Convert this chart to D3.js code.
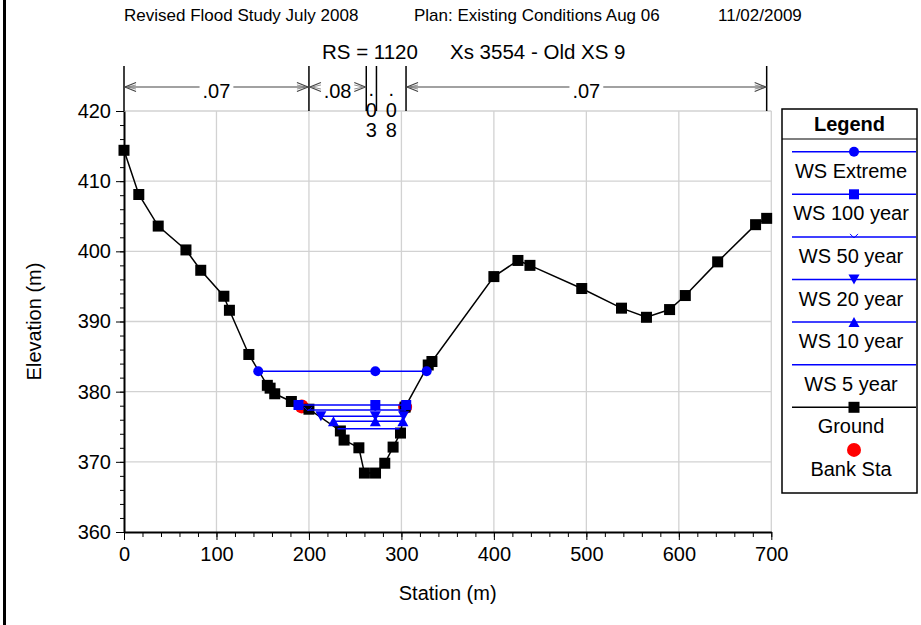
<!DOCTYPE html>
<html>
<head>
<meta charset="utf-8">
<style>
  body { margin: 0; background: #fff; }
  svg { font-family: Arial, "Liberation Sans", sans-serif; }
  .grid line { stroke: #d2d2d2; stroke-width: 1.3; }
  .axis path, .axis line { stroke: #000; }
  .axis text { font-size: 20px; fill: #000; }
</style>
</head>
<body>
<script src="https://cdn.jsdelivr.net/npm/d3@7"></script>
<script>
// ground profile
var stations   = [0, 16, 37, 67, 83, 108, 114, 135, 155, 158, 163, 181, 200, 234, 238, 254, 260, 272, 282, 291, 299, 304, 329, 333, 400, 426, 439, 495, 538, 565, 590, 607, 642, 683, 695];
var elevations = [414.4, 408.1, 403.6, 400.2, 397.3, 393.6, 391.6, 385.3, 380.9, 380.5, 379.7, 378.6, 377.5, 374.4, 373.1, 372.0, 368.4, 368.4, 369.8, 372.1, 374.1, 377.8, 383.8, 384.3, 396.4, 398.7, 398.0, 394.7, 391.9, 390.6, 391.7, 393.7, 398.5, 403.8, 404.7];

// water surfaces
var wsNames   = ["WS Extreme", "WS 100 year", "WS 50 year", "WS 20 year", "WS 10 year", "WS 5 year"];
var wsElev    = [382.9, 378.1, 377.4, 376.5, 375.8, 374.7];
var wsLeft    = [145.2, 188.7, 199.0, 212.9, 226.5, 230.9];
var wsMid     = [271.8, 271.8, 271.8, 271.8, 271.8, 271.8];
var wsRight   = [327.3, 305.2, 304.1, 302.3, 301.6, 298.0];
var wsMarkers = ["circle", "square", "chevron", "down", "up", "none"];

// bank stations
var bankSta  = [192.2, 304];
var bankElev = [377.9, 377.8];

// manning n values
var nBreaks = [0, 200, 262, 273, 305, 695];
var nValues = [".07", ".08", ".03", ".08", ".07"];

var xTicks = d3.range(0, 701, 100);
var yTicks = d3.range(360, 421, 10);

var W = 921, H = 625;
var blue = "#0000ff";

var svg = d3.select("body").append("svg")
    .attr("width", W)
    .attr("height", H);

var x = d3.scaleLinear().domain([0, 700]).range([124, 771.3]);
var y = d3.scaleLinear().domain([360, 420]).range([532, 111]);

// left border of the page
svg.append("line")
    .attr("x1", 4.5).attr("x2", 4.5).attr("y1", 0).attr("y2", H)
    .attr("stroke", "#000").attr("stroke-width", 3);

// titles
svg.append("text").attr("x", 124).attr("y", 21).style("font-size", "17px")
    .text("Revised Flood Study July 2008");
svg.append("text").attr("x", 414).attr("y", 21).style("font-size", "17px")
    .text("Plan: Existing Conditions Aug 06");
svg.append("text").attr("x", 718).attr("y", 21).style("font-size", "17px")
    .text("11/02/2009");
svg.append("text").attr("x", 322).attr("y", 59).style("font-size", "20.5px")
    .text("RS = 1120");
svg.append("text").attr("x", 450).attr("y", 59).style("font-size", "20.5px")
    .text("Xs 3554 - Old XS 9");

// grid
svg.append("g").attr("class", "grid")
  .selectAll("line.v").data(xTicks.slice(1)).enter().append("line")
    .attr("x1", function(d) { return x(d); }).attr("x2", function(d) { return x(d); })
    .attr("y1", y(360)).attr("y2", y(420));
svg.append("g").attr("class", "grid")
  .selectAll("line.h").data(yTicks.slice(1)).enter().append("line")
    .attr("x1", x(0)).attr("x2", x(700))
    .attr("y1", function(d) { return y(d); }).attr("y2", function(d) { return y(d); });

// axes
svg.append("g").attr("class", "axis")
    .attr("transform", "translate(0," + y(360) + ")")
    .call(d3.axisBottom(x).tickValues(d3.range(0, 701, 20)).tickSize(5).tickFormat(""))
    .call(function(g) { g.select(".domain").remove(); });
svg.append("g").attr("class", "axis")
    .attr("transform", "translate(0," + y(360) + ")")
    .call(d3.axisBottom(x).tickValues(xTicks).tickSize(8).tickPadding(7).tickSizeOuter(0))
    .call(function(g) { g.select(".domain").attr("stroke-width", 2); });

svg.append("g").attr("class", "axis")
    .attr("transform", "translate(" + x(0) + ",0)")
    .call(d3.axisLeft(y).tickValues(d3.range(360, 421, 2)).tickSize(4).tickFormat(""))
    .call(function(g) { g.select(".domain").remove(); });
svg.append("g").attr("class", "axis")
    .attr("transform", "translate(" + x(0) + ",0)")
    .call(d3.axisLeft(y).tickValues(yTicks).tickSize(8).tickPadding(5).tickSizeOuter(0))
    .call(function(g) { g.select(".domain").attr("stroke-width", 2); });

svg.append("text")
    .attr("transform", "translate(41," + (y(390)) + ") rotate(-90)")
    .attr("text-anchor", "middle").style("font-size", "20px")
    .text("Elevation (m)");
svg.append("text")
    .attr("x", (x(0) + x(700)) / 2).attr("y", 600)
    .attr("text-anchor", "middle").style("font-size", "20px")
    .text("Station (m)");

// n value annotation
var nTop = 66, nArrowY = 87;
var ann = svg.append("g").attr("stroke", "#000");
nBreaks.forEach(function(b) {
  ann.append("line")
      .attr("x1", x(b)).attr("x2", x(b)).attr("y1", nTop).attr("y2", y(420))
      .attr("stroke-width", 1.5);
});

function arrowHead(px, dir) {
  // dir = 1 points left (tip at px), -1 points right
  var a = 11 * dir;
  ann.append("path")
      .attr("d", "M" + (px + a) + "," + (nArrowY - 4.5) + "L" + px + "," + nArrowY + "L" + (px + a) + "," + (nArrowY + 4.5))
      .attr("fill", "none").attr("stroke", "#444").attr("stroke-width", 1.2);
  ann.append("path")
      .attr("d", "M" + (px + a) + "," + (nArrowY - 2) + "L" + (px + 2 * dir) + "," + nArrowY + "L" + (px + a) + "," + (nArrowY + 2))
      .attr("fill", "none").attr("stroke", "#777").attr("stroke-width", 0.8);
}

nValues.forEach(function(v, i) {
  var x0 = x(nBreaks[i]), x1 = x(nBreaks[i + 1]), cx = (x0 + x1) / 2;
  if (x1 - x0 > 30) {
    var t = svg.append("text").attr("x", cx).attr("y", nArrowY + 11)
        .attr("text-anchor", "middle").style("font-size", "20px").text(v);
    var tw = t.node().getComputedTextLength();
    var l = cx - tw / 2 - 3, r = cx + tw / 2 + 3;
    if (l - x0 > 14) {
      ann.append("line").attr("x1", x0 + 1).attr("x2", l).attr("y1", nArrowY).attr("y2", nArrowY)
          .attr("stroke", "#444").attr("stroke-width", 1.2);
      ann.append("line").attr("x1", r).attr("x2", x1 - 1).attr("y1", nArrowY).attr("y2", nArrowY)
          .attr("stroke", "#444").attr("stroke-width", 1.2);
    }
    arrowHead(x0 + 1, 1);
    arrowHead(x1 - 1, -1);
  } else {
    v.split("").forEach(function(c, k) {
      svg.append("text").attr("x", cx).attr("y", 96 + k * 20.5)
          .attr("text-anchor", "middle").style("font-size", "20px").text(c);
    });
  }
});

// markers
function drawMarker(g, type, px, py, color) {
  if (type === "circle") {
    g.append("circle").attr("cx", px).attr("cy", py).attr("r", 5).attr("fill", color);
  } else if (type === "square") {
    g.append("rect").attr("x", px - 5).attr("y", py - 5).attr("width", 10).attr("height", 10).attr("fill", color);
  } else if (type === "down") {
    g.append("path").attr("d", "M" + (px - 5.5) + "," + (py - 5) + "L" + (px + 5.5) + "," + (py - 5) + "L" + px + "," + (py + 5) + "Z").attr("fill", color);
  } else if (type === "up") {
    g.append("path").attr("d", "M" + (px - 5.5) + "," + (py + 5) + "L" + (px + 5.5) + "," + (py + 5) + "L" + px + "," + (py - 5) + "Z").attr("fill", color);
  } else if (type === "chevron") {
    g.append("path").attr("d", "M" + (px - 4) + "," + (py - 3) + "L" + px + "," + (py + 1) + "L" + (px + 4) + "," + (py - 3))
        .attr("fill", "none").attr("stroke", color).attr("stroke-width", 1);
  } else if (type === "gsquare") {
    g.append("rect").attr("x", px - 5.5).attr("y", py - 5.5).attr("width", 11).attr("height", 11).attr("fill", color);
  } else if (type === "bank") {
    g.append("circle").attr("cx", px).attr("cy", py).attr("r", 7).attr("fill", color);
  }
}

var plot = svg.append("g");

// bank stations (under the rest)
bankSta.forEach(function(s, i) {
  drawMarker(plot, "bank", x(s), y(bankElev[i]), "#ff0000");
});

// ground
var ground = stations.map(function(s, i) { return [s, elevations[i]]; });
var line = d3.line().x(function(d) { return x(d[0]); }).y(function(d) { return y(d[1]); });
plot.append("path").datum(ground).attr("d", line)
    .attr("fill", "none").attr("stroke", "#000").attr("stroke-width", 1.5);
ground.forEach(function(d) { drawMarker(plot, "gsquare", x(d[0]), y(d[1]), "#000"); });

// water surfaces
wsNames.forEach(function(n, i) {
  var pts = [[wsLeft[i], wsElev[i]], [wsMid[i], wsElev[i]], [wsRight[i], wsElev[i]]];
  plot.append("path").datum(pts).attr("d", line)
      .attr("fill", "none").attr("stroke", blue).attr("stroke-width", 1.5);
  pts.forEach(function(p) { drawMarker(plot, wsMarkers[i], x(p[0]), y(p[1]), blue); });
});

// legend
var lg = svg.append("g");
var lx0 = 782, lx1 = 917, ly0 = 109, ly1 = 493;
lg.append("rect").attr("x", lx0).attr("y", ly0).attr("width", lx1 - lx0).attr("height", ly1 - ly0)
    .attr("fill", "#fff").attr("stroke", "#000").attr("stroke-width", 1.5);
lg.append("line").attr("x1", lx0).attr("x2", lx1).attr("y1", 139).attr("y2", 139)
    .attr("stroke", "#000").attr("stroke-width", 1.2);
lg.append("text").attr("x", (lx0 + lx1) / 2).attr("y", 131).attr("text-anchor", "middle")
    .style("font-size", "20px").style("font-weight", "bold").text("Legend");

var legNames = wsNames.concat(["Ground", "Bank Sta"]);
var legMarkers = wsMarkers.concat(["gsquare", "bank"]);
var legColors = [blue, blue, blue, blue, blue, blue, "#000", "#ff0000"];
var lmx = 854;
legNames.forEach(function(n, i) {
  var ly = 151.7 + 42.6 * i;
  if (n !== "Bank Sta") {
    lg.append("line").attr("x1", 792).attr("x2", 916).attr("y1", ly).attr("y2", ly)
        .attr("stroke", legColors[i]).attr("stroke-width", 1.5);
  }
  drawMarker(lg, legMarkers[i], lmx, ly, legColors[i]);
  lg.append("text").attr("x", 851).attr("y", ly + 26).attr("text-anchor", "middle")
      .style("font-size", "20px").text(n);
});
</script>
</body>
</html>
